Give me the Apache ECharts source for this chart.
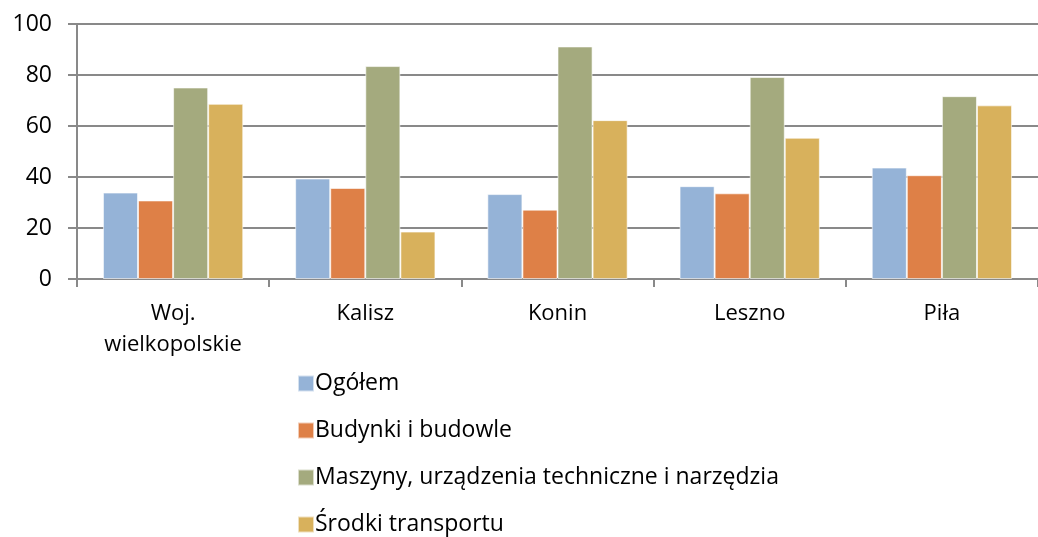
<!DOCTYPE html>
<html>
<head>
  <meta charset="UTF-8">
  <title>Wskaźnik zużycia środków trwałych</title>
  <script src="https://cdn.jsdelivr.net/npm/echarts@6/dist/echarts.min.js"></script>
  <style>
    html, body { margin: 0; padding: 0; background: #fff; }
  </style>
</head>
<body>
  <div id="chart" style="width:1038px; height:537px;"></div>
  <script>
    var categories = ['Woj.\nwielkopolskie', 'Kalisz', 'Konin', 'Leszno', 'Piła'];
    var yTicks = [0, 20, 40, 60, 80, 100];
    var ogolem = [33.9, 39.4, 33.3, 36.4, 43.7];
    var budynki = [30.8, 35.7, 27.2, 33.6, 40.7];
    var maszyny = [75.1, 83.5, 91.2, 79.2, 71.7];
    var transport = [68.7, 18.6, 62.3, 55.4, 68.1];

    var names = ['Ogółem', 'Budynki i budowle', 'Maszyny, urządzenia techniczne i narzędzia', 'Środki transportu'];
    var colors = ['#95b3d7', '#de8047', '#a4aa7e', '#d8b15c'];
    var values = [ogolem, budynki, maszyny, transport];
    var font = 'Open Sans, sans-serif';

    var chart = echarts.init(document.getElementById('chart'), null, {renderer: 'canvas'});
    var series = values.map(function (v, i) {
      return {
        name: names[i],
        type: 'bar',
        data: v,
        barGap: '0%',
        barCategoryGap: '27%',
        itemStyle: { color: colors[i], borderColor: 'rgba(255,255,255,0.6)', borderWidth: 1 }
      };
    });

    chart.setOption({
      animation: false,
      color: colors,
      grid: { left: 77, right: 0, top: 24, bottom: 258 },
      legend: {
        orient: 'vertical',
        left: 292,
        top: 367,
        height: 300,
        itemWidth: 16,
        itemHeight: 16,
        itemGap: 24,
        icon: 'rect',
        textStyle: { fontFamily: font, fontSize: 23, color: '#000', padding: [0, 0, 0, -4] },
        data: names
      },
      xAxis: {
        type: 'category',
        data: categories,
        axisLine: { lineStyle: { color: '#898989', width: 2 } },
        axisTick: { show: true, length: 8, lineStyle: { color: '#898989', width: 2 } },
        axisLabel: { fontFamily: font, fontSize: 22, color: '#000', margin: 19, lineHeight: 31 }
      },
      yAxis: {
        type: 'value',
        min: yTicks[0],
        max: yTicks[yTicks.length - 1],
        interval: 20,
        axisLine: { show: true, lineStyle: { color: '#898989', width: 2 } },
        axisTick: { show: true, length: 9, lineStyle: { color: '#898989', width: 2 } },
        splitLine: { lineStyle: { color: '#898989', width: 2 } },
        axisLabel: { fontFamily: font, fontSize: 23, color: '#000', margin: 25 }
      },
      series: series
    });
  </script>
</body>
</html>
